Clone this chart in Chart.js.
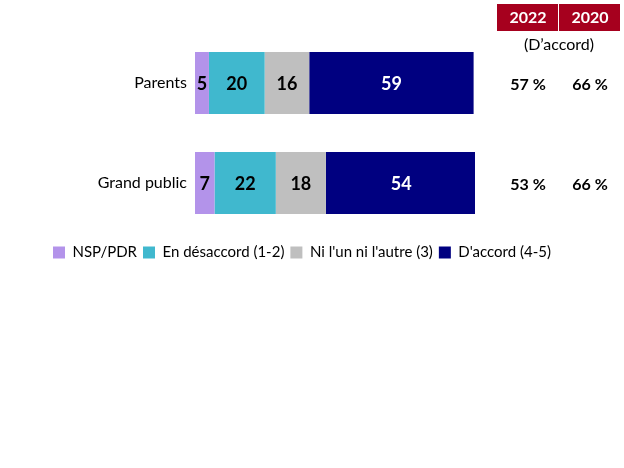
<!DOCTYPE html>
<html>
<head>
<meta charset="utf-8">
<script src="https://cdn.jsdelivr.net/npm/chart.js@4.4.1/dist/chart.umd.min.js"></script>
<style>
  html, body { margin: 0; padding: 0; background: #fff; }
  #wrap { width: 624px; height: 468px; }
</style>
</head>
<body>
<div id="wrap"><canvas id="chart" width="624" height="468"></canvas></div>
<script>
// Data
const categories = ['Parents', 'Grand public'];
const seriesLabels = ['NSP/PDR', 'En désaccord (1-2)', "Ni l'un ni l'autre (3)", "D'accord (4-5)"];
const nspPdr = [5, 7];
const desaccord = [20, 22];
const niLunNiLautre = [16, 18];
const daccord = [59, 54];
const yearHeaders = ['2022', '2020'];
const agree2022 = [57, 53];
const agree2020 = [66, 66];

const colors = ['#b393ea', '#40b8ce', '#bfbfbf', '#000080'];
const labelColors = ['#000', '#000', '#000', '#fff'];
const FONT = 'Lato, "Open Sans", sans-serif';

// values written inside each segment
const segmentLabels = {
    id: 'segmentLabels',
    afterDatasetsDraw(chart) {
        const ctx = chart.ctx;
        ctx.save();
        ctx.font = 'bold 18px ' + FONT;
        ctx.textAlign = 'center';
        ctx.textBaseline = 'middle';
        chart.data.datasets.forEach((ds, di) => {
            chart.getDatasetMeta(di).data.forEach((bar, i) => {
                const p = bar.getCenterPoint();
                ctx.fillStyle = labelColors[di];
                ctx.fillText(ds.data[i], p.x, p.y + 1);
            });
        });
        ctx.restore();
    }
};

// 2022 / 2020 agree columns on the right
const agreeColumns = {
    id: 'agreeColumns',
    afterDraw(chart) {
        const ctx = chart.ctx;
        const y = chart.scales.y;
        const cols = [528, 590];
        ctx.save();
        ctx.textAlign = 'center';
        ctx.textBaseline = 'middle';
        yearHeaders.forEach((yr, k) => {
            ctx.fillStyle = '#a6001e';
            ctx.fillRect(cols[k] - 31, 4, 61, 27);
            ctx.fillStyle = '#fff';
            ctx.font = 'bold 16px ' + FONT;
            ctx.fillText(yr, cols[k], 18);
        });
        ctx.fillStyle = '#000';
        ctx.font = '16px ' + FONT;
        ctx.fillText('(D\u2019accord)', 559, 45);
        ctx.font = 'bold 16px ' + FONT;
        categories.forEach((c, i) => {
            const py = y.getPixelForValue(i) + 2;
            ctx.fillText(agree2022[i] + ' %', cols[0], py);
            ctx.fillText(agree2020[i] + ' %', cols[1], py);
        });
        ctx.restore();
    }
};

const datasets = [nspPdr, desaccord, niLunNiLautre, daccord].map((d, i) => ({
    label: seriesLabels[i],
    data: d,
    backgroundColor: colors[i],
    borderWidth: 0,
    categoryPercentage: 0.62,
    barPercentage: 1
}));

new Chart(document.getElementById('chart'), {
    type: 'bar',
    data: { labels: categories, datasets },
    options: {
        indexAxis: 'y',
        responsive: false,
        animation: false,
        layout: { padding: { left: 0, right: 20, top: 33, bottom: 198 } },
        scales: {
            x: { stacked: true, min: 0, max: 100.5, display: false },
            y: {
                stacked: true,
                grid: { display: false, drawTicks: false },
                border: { display: false },
                ticks: { color: '#000', font: { family: FONT, size: 16 }, padding: 8 },
                afterFit: s => { s.width = 195; }
            },
            yRight: {
                type: 'category',
                position: 'right',
                grid: { display: false, drawTicks: false },
                border: { display: false },
                ticks: { display: false },
                afterFit: s => { s.width = 129; }
            }
        },
        plugins: {
            legend: {
                position: 'bottom',
                // empty title only pushes the legend row down a little
                title: { display: true, text: ' ', font: { size: 5 }, padding: 0 },
                labels: {
                    color: '#000',
                    font: { family: FONT, size: 15 },
                    boxWidth: 12,
                    boxHeight: 12,
                    padding: 6
                }
            },
            tooltip: { enabled: false }
        }
    },
    plugins: [segmentLabels, agreeColumns]
});
</script>
</body>
</html>
